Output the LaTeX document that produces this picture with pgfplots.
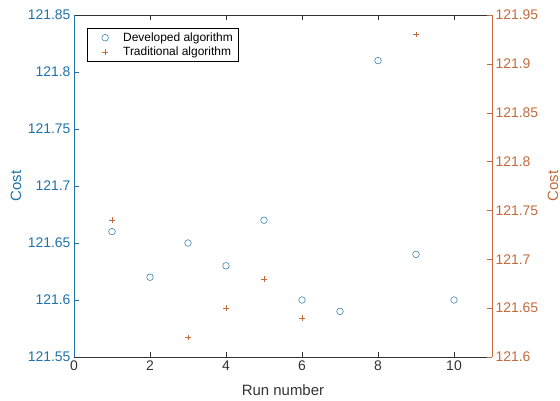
\documentclass[border=0pt]{standalone}
\usepackage{fontspec}
\setmainfont{Liberation Sans}
\usepackage{pgfplots}
\pgfplotsset{compat=1.18}
\definecolor{mblue}{rgb}{0.12,0.45,0.66}
\definecolor{morange}{rgb}{0.76,0.42,0.24}
\definecolor{mgray}{rgb}{0.2,0.2,0.2}

\begin{document}
\begin{tikzpicture}
\pgfplotsset{
  common/.style={
    width=418bp, height=342bp, scale only axis,
    xmin=0, xmax=11,
    tick align=inside, major tick length=5bp,
    font=\fontsize{14}{16}\selectfont,
    /pgf/number format/assume math mode=true,
    scaled y ticks=false,
    yticklabel style={/pgf/number format/fixed, /pgf/number format/precision=2},
    label style={font=\fontsize{15}{17}\selectfont},
    legend image code/.code={
      \path[draw=none, fill=none] (0bp,-4bp) rectangle (31bp,4bp);
      \draw[##1] plot coordinates {(15bp,0bp)};
    },
  },
}
% left axis: developed algorithm
\begin{axis}[common, name=ax,
  ymin=121.55, ymax=121.85,
  axis y line*=left, axis x line*=box,
  xtick={0,2,4,6,8,10},
  ytick={121.55,121.6,121.65,121.7,121.75,121.8,121.85},
  x axis line style={mgray}, xtick style={mgray},
  xticklabel style={mgray},
  y axis line style={mblue}, ytick style={mblue},
  yticklabel style={mblue},
  xlabel={Run number},
  xlabel style={mgray, at={(axis description cs:0.5,-0.0965)}, anchor=center},
  ylabel={Cost},
  ylabel style={mblue, at={(axis description cs:-0.1388,0.5)}, anchor=center},
  legend style={at={(0.031,0.962)}, anchor=north west, draw=black,
    fill=white, font=\fontsize{12}{14}\selectfont, row sep=0pt,
    inner ysep=2.5pt},
  legend cell align=left,
]
\addplot[only marks, mark=o, mark size=3.3bp, mblue, line width=0.5bp]
coordinates {
  (1,121.66) (2,121.62) (3,121.65) (4,121.63) (5,121.67)
  (6,121.60) (7,121.59) (8,121.81) (9,121.64) (10,121.60)
};
\addlegendentry{Developed algorithm}
\addlegendimage{only marks, mark=+, mark size=2.8bp, morange, line width=0.5bp}
\addlegendentry{Traditional algorithm}
\end{axis}
% right axis: traditional algorithm
\begin{axis}[common,
  ymin=121.6, ymax=121.95,
  axis y line*=right, axis x line=none,
  ytick={121.6,121.65,121.7,121.75,121.8,121.85,121.9,121.95},
  y axis line style={morange}, ytick style={morange},
  yticklabel style={morange},
  ylabel={Cost},
  ylabel style={morange, at={(axis description cs:1.146,0.5)}, anchor=center},
]
\addplot[only marks, mark=+, mark size=2.8bp, morange, line width=0.5bp]
coordinates {
  (1,121.74) (3,121.62) (4,121.65) (5,121.68) (6,121.64) (9,121.93)
};
\end{axis}
\pgfresetboundingbox
\path ([xshift=-74bp, yshift=-44bp]ax.south west)
  rectangle ([xshift=68bp, yshift=15bp]ax.north east);
\end{tikzpicture}
\end{document}
